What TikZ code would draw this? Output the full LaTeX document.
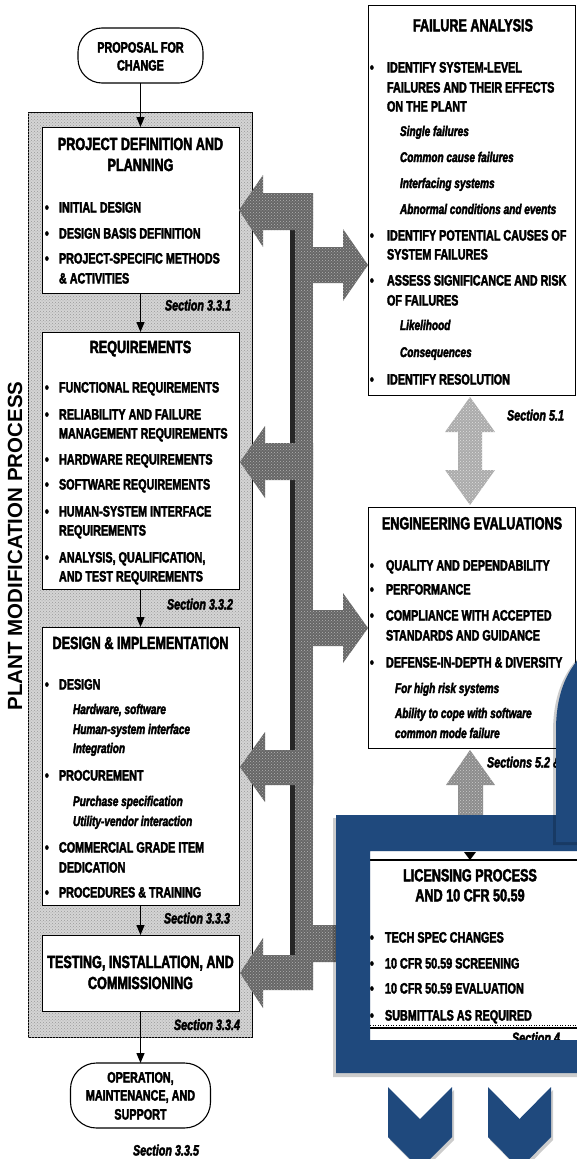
\documentclass[tikz,border=0pt]{standalone}
\usepackage{fontspec}
\setmainfont{Liberation Sans}
\newfontfamily\cond{Liberation Sans}[FakeStretch=0.72, BoldFeatures={FakeBold=2.5}, BoldItalicFeatures={FakeBold=2.5}]
\usetikzlibrary{arrows.meta,patterns}
\definecolor{navy}{HTML}{1F497D}

\begin{document}
\begin{tikzpicture}[x=1pt,y=-1pt,
  every node/.style={inner sep=0pt, outer sep=0pt},
  ttl/.style={font=\cond\bfseries\fontsize{17.5}{21}\selectfont, anchor=base},
  ctr/.style={font=\cond\bfseries\fontsize{15}{19}\selectfont, anchor=base},
  itm/.style={font=\cond\bfseries\fontsize{15}{19}\selectfont, anchor=base west},
  sub/.style={font=\cond\bfseries\itshape\fontsize{14}{18}\selectfont, anchor=base west},
  sec/.style={font=\cond\bfseries\itshape\fontsize{15}{18}\selectfont},
  box/.style={draw, line width=1pt, fill=white, anchor=north west},
  term/.style={box, line width=1.1pt},
  flow/.style={draw, line width=1.3pt, -{Triangle[length=10pt,width=8pt]}},
  procbg/.style={draw, line width=0.8pt, anchor=north west, fill=black!17,
    postaction={pattern=crosshatch dots, pattern color=black!40}},
  bus/.style={fill=black!60, postaction={pattern=crosshatch dots, pattern color=black!30}},
  lite/.style={fill=black!33, postaction={pattern=crosshatch dots, pattern color=black!12}},
  mid/.style={fill=black!45, postaction={pattern=crosshatch dots, pattern color=black!20}},
  blue/.style={fill=navy},
  shade/.style={fill=black, opacity=0.2}
]
\useasboundingbox (0,0) rectangle (577,1159);
\clip (0,0) rectangle (577,1159);

% ---------------- plant modification process column ----------------
\node[procbg, minimum width=224pt, minimum height=925pt] (proc) at (28,112) {};
\node[rotate=90, font=\bfseries\fontsize{20.5}{24}\selectfont] (side) at (15,546) {PLANT MODIFICATION PROCESS};

\node[term, rounded corners=24pt, minimum width=125pt, minimum height=55pt] (prop) at (78,28) {};
\node[ctr] (prop1) at (140.5,52.5) {PROPOSAL FOR};
\node[ctr] (prop2) at (140.5,70.5) {CHANGE};

% project definition
\node[box, minimum width=197pt, minimum height=166pt] (pd) at (42,127) {};
\node[ttl] (pdt1) at (140.5,150) {PROJECT DEFINITION AND};
\node[ttl] (pdt2) at (140.5,171) {PLANNING};
\node[itm] (pd1) at (45,212.5) {\makebox[14pt][l]{•}INITIAL DESIGN};
\node[itm] (pd2) at (45,238.5) {\makebox[14pt][l]{•}DESIGN BASIS DEFINITION};
\node[itm] (pd3) at (45,263.5) {\makebox[14pt][l]{•}PROJECT-SPECIFIC METHODS};
\node[itm] (pd3b) at (59,283.5) {\& ACTIVITIES};
\node[sec, anchor=base east] (s331) at (231,310.5) {Section 3.3.1};

% requirements
\node[box, minimum width=197pt, minimum height=257pt] (req) at (42,332) {};
\node[ttl] (reqt) at (140.5,353) {REQUIREMENTS};
\node[itm] (rq1) at (45,392.5) {\makebox[14pt][l]{•}FUNCTIONAL REQUIREMENTS};
\node[itm] (rq2) at (45,419.5) {\makebox[14pt][l]{•}RELIABILITY AND FAILURE};
\node[itm] (rq2b) at (59,438.5) {MANAGEMENT REQUIREMENTS};
\node[itm] (rq3) at (45,464.5) {\makebox[14pt][l]{•}HARDWARE REQUIREMENTS};
\node[itm] (rq4) at (45,489.5) {\makebox[14pt][l]{•}SOFTWARE REQUIREMENTS};
\node[itm] (rq5) at (45,516.5) {\makebox[14pt][l]{•}HUMAN-SYSTEM INTERFACE};
\node[itm] (rq5b) at (59,535.5) {REQUIREMENTS};
\node[itm] (rq6) at (45,562.5) {\makebox[14pt][l]{•}ANALYSIS, QUALIFICATION,};
\node[itm] (rq6b) at (59,581.5) {AND TEST REQUIREMENTS};
\node[sec, anchor=base east] (s332) at (233,609.5) {Section 3.3.2};

% design and implementation
\node[box, minimum width=197pt, minimum height=278pt] (di) at (42,627) {};
\node[ttl] (dit) at (140.5,649) {DESIGN \& IMPLEMENTATION};
\node[itm] (di1) at (45,689.5) {\makebox[14pt][l]{•}DESIGN};
\node[sub] (di1a) at (73,714) {Hardware, software};
\node[sub] (di1b) at (73,734) {Human-system interface};
\node[sub] (di1c) at (73,753) {Integration};
\node[itm] (di2) at (45,780.5) {\makebox[14pt][l]{•}PROCUREMENT};
\node[sub] (di2a) at (73,806) {Purchase specification};
\node[sub] (di2b) at (73,826) {Utility-vendor interaction};
\node[itm] (di3) at (45,852.5) {\makebox[14pt][l]{•}COMMERCIAL GRADE ITEM};
\node[itm] (di3b) at (59,872.5) {DEDICATION};
\node[itm] (di4) at (45,897.5) {\makebox[14pt][l]{•}PROCEDURES \& TRAINING};
\node[sec, anchor=base east] (s333) at (230,923.5) {Section 3.3.3};

% testing, installation and commissioning
\node[box, minimum width=197pt, minimum height=76pt] (tic) at (42,935) {};
\node[ttl] (tic1) at (140.5,968) {TESTING, INSTALLATION, AND};
\node[ttl] (tic2) at (140.5,989) {COMMISSIONING};
\node[sec, anchor=base east] (s334) at (240,1030) {Section 3.3.4};

\node[term, rounded corners=26pt, minimum width=140pt, minimum height=65pt] (oms) at (70.5,1063) {};
\node[ctr] (oms1) at (140.5,1082.5) {OPERATION,};
\node[ctr] (oms2) at (140.5,1100.5) {MAINTENANCE, AND};
\node[ctr] (oms3) at (140.5,1119.5) {SUPPORT};
\node[sec, anchor=base] (s335) at (166,1155.5) {Section 3.3.5};

\draw[flow] (prop.south) -- (pd.north);
\draw[flow] (pd.south) -- (req.north);
\draw[flow] (req.south) -- (di.north);
\draw[flow] (di.south) -- (tic.north);
\draw[flow] (tic.south) -- (oms.north);

% ---------------- feedback bus between the two columns ----------------
\fill[bus] (290,193) rectangle (313,990);
\fill[black!85] (290,230) rectangle (295,955);
\fill[bus] (239,210) -- (263,175) -- (263,193) -- (313,193) -- (313,230) -- (263,230) -- (263,247) -- cycle;
\fill[bus] (313,247) -- (343,247) -- (343,229) -- (368,265) -- (343,301) -- (343,283) -- (313,283) -- cycle;
\fill[bus] (240,462) -- (265,426) -- (265,443) -- (313,443) -- (313,480) -- (265,480) -- (265,498) -- cycle;
\fill[bus] (313,610) -- (343,610) -- (343,593) -- (368,628) -- (343,663) -- (343,646) -- (313,646) -- cycle;
\fill[bus] (240,767) -- (265,732) -- (265,750) -- (313,750) -- (313,785) -- (265,785) -- (265,802) -- cycle;
\fill[bus] (313,925) -- (343,925) -- (343,908) -- (368,943) -- (343,978) -- (343,962) -- (313,962) -- cycle;
\fill[bus] (240,973) -- (263,938) -- (263,955) -- (313,955) -- (313,990) -- (263,990) -- (263,1008) -- cycle;

% ---------------- failure analysis ----------------
\node[box, minimum width=207pt, minimum height=390pt] (fa) at (368,5) {};
\node[ttl] (fat) at (473,31.3) {FAILURE ANALYSIS};
\node[itm] (fa1) at (370,72.5) {\makebox[17pt][l]{•}IDENTIFY SYSTEM-LEVEL};
\node[itm] (fa1b) at (387,92.5) {FAILURES AND THEIR EFFECTS};
\node[itm] (fa1c) at (387,111.5) {ON THE PLANT};
\node[sub] (fa1d) at (400,136) {Single failures};
\node[sub] (fa1e) at (400,162) {Common cause failures};
\node[sub] (fa1f) at (400,188) {Interfacing systems};
\node[sub] (fa1g) at (400,214) {Abnormal conditions and events};
\node[itm] (fa2) at (370,240.5) {\makebox[17pt][l]{•}IDENTIFY POTENTIAL CAUSES OF};
\node[itm] (fa2b) at (387,259.5) {SYSTEM FAILURES};
\node[itm] (fa3) at (370,285.5) {\makebox[17pt][l]{•}ASSESS SIGNIFICANCE AND RISK};
\node[itm] (fa3b) at (387,305.5) {OF FAILURES};
\node[sub] (fa3c) at (400,330) {Likelihood};
\node[sub] (fa3d) at (400,357) {Consequences};
\node[itm] (fa4) at (370,384.5) {\makebox[17pt][l]{•}IDENTIFY RESOLUTION};
\node[sec, anchor=base west] (s51) at (507,420.5) {Section 5.1};

% two-way link between failure analysis and engineering evaluations
\fill[lite] (470,397) -- (495,432) -- (482,432) -- (482,470) -- (495,470) -- (470,505)
  -- (445,470) -- (458,470) -- (458,432) -- (445,432) -- cycle;

% ---------------- engineering evaluations ----------------
\node[box, minimum width=207pt, minimum height=241pt] (ee) at (368,507) {};
\node[ttl] (eet) at (472,529.3) {ENGINEERING EVALUATIONS};
\node[itm] (ee1) at (370,570.5) {\makebox[16pt][l]{•}QUALITY AND DEPENDABILITY};
\node[itm] (ee2) at (370,594.5) {\makebox[16pt][l]{•}PERFORMANCE};
\node[itm] (ee3) at (370,620.5) {\makebox[16pt][l]{•}COMPLIANCE WITH ACCEPTED};
\node[itm] (ee3b) at (386,640.5) {STANDARDS AND GUIDANCE};
\node[itm] (ee4) at (370,667.5) {\makebox[16pt][l]{•}DEFENSE-IN-DEPTH \& DIVERSITY};
\node[sub] (ee4a) at (395,693) {For high risk systems};
\node[sub] (ee4b) at (395,718) {Ability to cope with software};
\node[sub] (ee4c) at (395,738) {common mode failure};
\node[sec, anchor=base west] (s52) at (487,767.5) {Sections 5.2 \&};

% link up from licensing
\fill[mid] (470,750) -- (495,785) -- (483,785) -- (483,830) -- (458,830) -- (458,785) -- (446,785) -- cycle;

% ---------------- licensing process ----------------
\node[box, draw=none, minimum width=220pt, minimum height=190pt] (lic) at (362,860) {};
\draw[line width=1.3pt] (lic.north west) -- (lic.north east);
\fill (464,852) -- (476,852) -- (470,860) -- cycle;
\node[ttl] (lict1) at (470,881.3) {LICENSING PROCESS};
\node[ttl] (lict2) at (470,901.3) {AND 10 CFR 50.59};
\node[itm] (lc1) at (370,942.5) {\makebox[15pt][l]{•}TECH SPEC CHANGES};
\node[itm] (lc2) at (370,968.5) {\makebox[15pt][l]{•}10 CFR 50.59 SCREENING};
\node[itm] (lc3) at (370,993.5) {\makebox[15pt][l]{•}10 CFR 50.59 EVALUATION};
\node[itm] (lc4) at (370,1020.5) {\makebox[15pt][l]{•}SUBMITTALS AS REQUIRED};
\draw[line width=1.2pt] (370,1028) -- (580,1028);
\draw[line width=0.6pt, dotted] (370,1025.5) -- (580,1025.5);
\node[sec, anchor=base west] (s4) at (512,1043) {Section 4};

% ---------------- blue overlay ----------------
\fill[shade, even odd rule] (333,818) rectangle (590,1077) (370,851) rectangle (590,1040);
\fill[blue, even odd rule] (336,815) rectangle (590,1073) (370,851) rectangle (590,1040);

\fill[shade] (553,845) -- (553,732) .. controls (553,697) and (563,674) .. (579,657) -- (590,657) -- (590,845) -- cycle;
\fill[blue] (556,842) -- (556,730) .. controls (556,695) and (566,672) .. (582,655) -- (590,655) -- (590,842) -- cycle;

\fill[shade] (390,1090) -- (422,1122) -- (454,1090) -- (454,1140) -- (422,1172) -- (390,1140) -- cycle;
\fill[shade] (490,1090) -- (521.5,1122) -- (553,1090) -- (553,1140) -- (521.5,1172) -- (490,1140) -- cycle;
\fill[blue] (388,1087) -- (420,1119) -- (452,1087) -- (452,1137) -- (420,1169) -- (388,1137) -- cycle;
\fill[blue] (488,1087) -- (519.5,1119) -- (551,1087) -- (551,1137) -- (519.5,1169) -- (488,1137) -- cycle;
\end{tikzpicture}
\end{document}
